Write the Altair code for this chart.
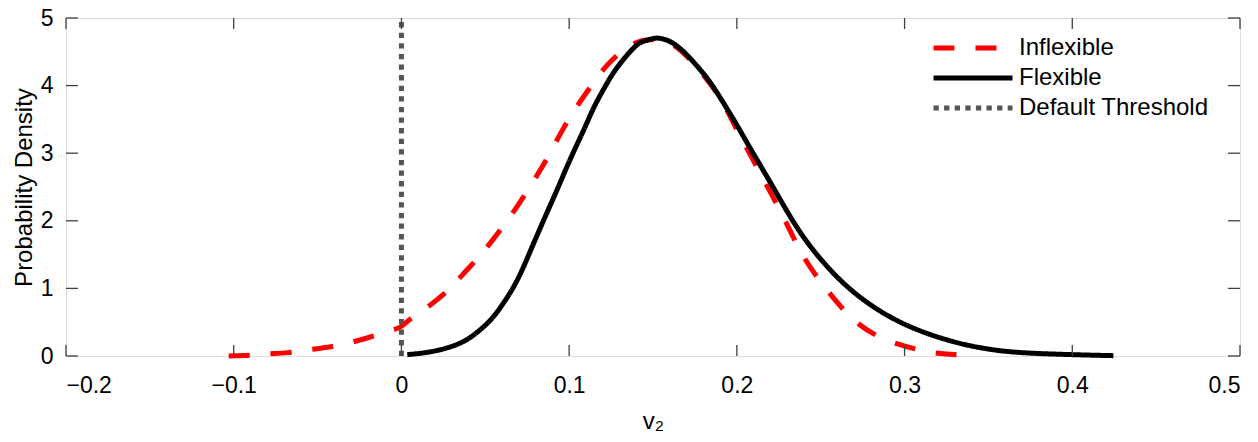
import altair as alt
import pandas as pd

# Inflexible (red dashed) density curve
inflex_x = [-0.103, -0.09, -0.08, -0.068, -0.056, -0.044, -0.032, -0.02, -0.007, 0.0,
            0.008, 0.018, 0.029, 0.036, 0.046, 0.052, 0.060, 0.067, 0.074, 0.080,
            0.087, 0.099, 0.111, 0.123, 0.137, 0.149, 0.162, 0.174, 0.188, 0.200,
            0.211, 0.228, 0.240, 0.254, 0.270, 0.289, 0.311, 0.325, 0.342]
inflex_y = [0.0, 0.01, 0.03, 0.05, 0.09, 0.13, 0.19, 0.27, 0.37, 0.44,
            0.60, 0.77, 1.0, 1.19, 1.46, 1.64, 1.90, 2.14, 2.40, 2.64,
            2.93, 3.47, 3.92, 4.31, 4.60, 4.68, 4.60, 4.33, 3.89, 3.35,
            2.84, 2.04, 1.46, 0.97, 0.53, 0.24, 0.08, 0.03, 0.005]

# Flexible (black solid) density curve
flex_x = [0.0035, 0.019, 0.033, 0.043, 0.053, 0.061, 0.069, 0.077, 0.085, 0.093,
          0.101, 0.109, 0.115, 0.122, 0.129, 0.139, 0.145, 0.151, 0.156, 0.161,
          0.167, 0.173, 0.180, 0.187, 0.198, 0.209, 0.222, 0.237, 0.254, 0.274,
          0.300, 0.328, 0.349, 0.370, 0.400, 0.4245]
flex_y = [0.02, 0.07, 0.17, 0.31, 0.53, 0.79, 1.12, 1.56, 2.02, 2.47,
          2.93, 3.36, 3.69, 4.01, 4.28, 4.57, 4.66, 4.70, 4.69, 4.64,
          4.53, 4.38, 4.18, 3.94, 3.50, 3.03, 2.48, 1.86, 1.32, 0.86,
          0.47, 0.22, 0.107, 0.05, 0.02, 0.005]

# default threshold at v2 = 0
threshold_x = [0.0, 0.0]
threshold_y = [0.0, 5.0]

x_ticks = [-0.2, -0.1, 0, 0.1, 0.2, 0.3, 0.4, 0.5]
y_ticks = [0, 1, 2, 3, 4, 5]

series = ["Inflexible", "Flexible", "Default Threshold"]
colores = ["#ff0000", "#000000", "#555555"]
tracos = [[21, 21], [1, 0], [5.3, 5.3]]

FONTE = "Liberation Sans, Arial, Helvetica, sans-serif"
EIXO = "#404040"
W, H = 1174, 338


def montar_df():
    partes = []
    for nome, xs, ys in [("Inflexible", inflex_x, inflex_y),
                         ("Flexible", flex_x, flex_y),
                         ("Default Threshold", threshold_x, threshold_y)]:
        partes.append(pd.DataFrame({
            "v2": xs, "dens": ys, "serie": nome, "ordem": range(len(xs))
        }))
    return pd.concat(partes, ignore_index=True)


df = montar_df()

legenda = alt.Legend(
    title=None, orient="none", legendX=865, legendY=15,
    symbolType="stroke", symbolSize=6241, symbolStrokeWidth=5,
    labelFont=FONTE, labelFontSize=24, labelColor="black",
    labelOffset=4, labelLimit=400, padding=0, rowPadding=0, clipHeight=30,
)

escala_x = alt.Scale(domain=[-0.2, 0.5], nice=False, zero=False)
escala_y = alt.Scale(domain=[0, 5], nice=False)

linhas = alt.Chart(df).mark_line(strokeWidth=5, interpolate="natural", strokeCap="butt").encode(
    x=alt.X("v2:Q", scale=escala_x, axis=alt.Axis(
        title="v₂", values=x_ticks, format="~g",
        labelFontSize=23, labelPadding=18, titleFontSize=24, titlePadding=12,
        titleFontWeight="normal",
        ticks=False, tickSize=0, domain=False, grid=False)),
    y=alt.Y("dens:Q", scale=escala_y, axis=alt.Axis(
        title="Probability Density", values=y_ticks, format="~g",
        labelFontSize=23, labelPadding=13, titleFontSize=24, titlePadding=4,
        titleFontWeight="normal",
        ticks=False, tickSize=0, domain=False, grid=False)),
    color=alt.Color("serie:N", scale=alt.Scale(domain=series, range=colores), legend=legenda),
    strokeDash=alt.StrokeDash("serie:N", scale=alt.Scale(domain=series, range=tracos), legend=legenda),
    order="ordem:Q",
)

xt = pd.DataFrame({"v2": x_ticks})
yt = pd.DataFrame({"dens": y_ticks})

tick_baixo = alt.Chart(xt).mark_rule(color=EIXO, strokeWidth=1.3).encode(
    x="v2:Q", y=alt.value(H), y2=alt.value(H - 11))
tick_cima = alt.Chart(xt).mark_rule(color=EIXO, strokeWidth=1.3).encode(
    x="v2:Q", y=alt.value(0), y2=alt.value(11))
tick_esq = alt.Chart(yt).mark_rule(color=EIXO, strokeWidth=1.3).encode(
    y="dens:Q", x=alt.value(0), x2=alt.value(12))
tick_dir = alt.Chart(yt).mark_rule(color=EIXO, strokeWidth=1.3).encode(
    y="dens:Q", x=alt.value(W), x2=alt.value(W - 12))

chart = alt.layer(linhas, tick_baixo, tick_cima, tick_esq, tick_dir).properties(
    width=W, height=H,
    padding={"left": 58, "top": 10, "right": 10, "bottom": 78},
    autosize=alt.AutoSizeParams(type="none"),
).configure_view(
    stroke=EIXO, strokeWidth=1.3
).configure_axis(
    labelFont=FONTE, titleFont=FONTE, labelColor="black", titleColor="black",
    titleFontWeight="normal"
).configure(background="white")

chart.save("out.html", embed_options={"renderer": "svg", "actions": False})
